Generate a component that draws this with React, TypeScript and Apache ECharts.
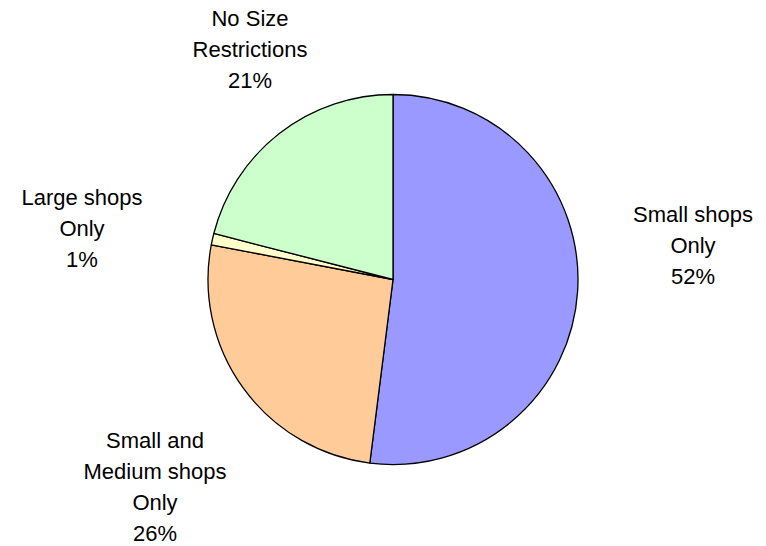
import React, { useEffect, useRef } from "react";
import * as echarts from "echarts";

const categories = [
  "Small shops\nOnly",
  "Small and\nMedium shops\nOnly",
  "Large shops\nOnly",
  "No Size\nRestrictions",
];
const values = [52, 26, 1, 21];
const colors = ["#9999FF", "#FFCC99", "#FFFFCC", "#CCFFCC"];
const labelPos = [
  [693, 245],
  [155, 487],
  [82, 228],
  [250, 49],
];

export default function App() {
  const ref = useRef<HTMLDivElement>(null);
  useEffect(() => {
    if (!ref.current) return;
    const chart = echarts.init(ref.current, null, { renderer: "svg" });
    chart.setOption({
      animation: false,
      backgroundColor: "#ffffff",
      series: [
        {
          type: "pie",
          center: [393, 279.5],
          radius: [0, 185],
          startAngle: 90,
          clockwise: true,
          avoidLabelOverlap: false,
          emphasis: { disabled: true },
          data: categories.map((c, i) => ({
            name: c,
            value: values[i],
            itemStyle: { color: colors[i] },
          })),
          itemStyle: { borderColor: "#000000", borderWidth: 1.3 },
          label: {
            show: true,
            position: "outside",
            formatter: (p: any) => `${p.name}\n${Math.round(p.percent)}%`,
            fontFamily: "Arial, 'Liberation Sans', sans-serif",
            fontSize: 22,
            lineHeight: 31,
            color: "#000000",
            align: "center",
          },
          labelLine: { show: false },
          labelLayout: (params: any) => {
            const pos = labelPos[params.dataIndex];
            return {
              x: pos[0],
              y: pos[1],
              align: "center",
              verticalAlign: "middle",
              hideOverlap: false,
            };
          },
        },
      ],
    });
    return () => chart.dispose();
  }, []);
  return (
    <div
      ref={ref}
      style={{ position: "fixed", left: 0, top: 0, width: 766, height: 546 }}
    />
  );
}
